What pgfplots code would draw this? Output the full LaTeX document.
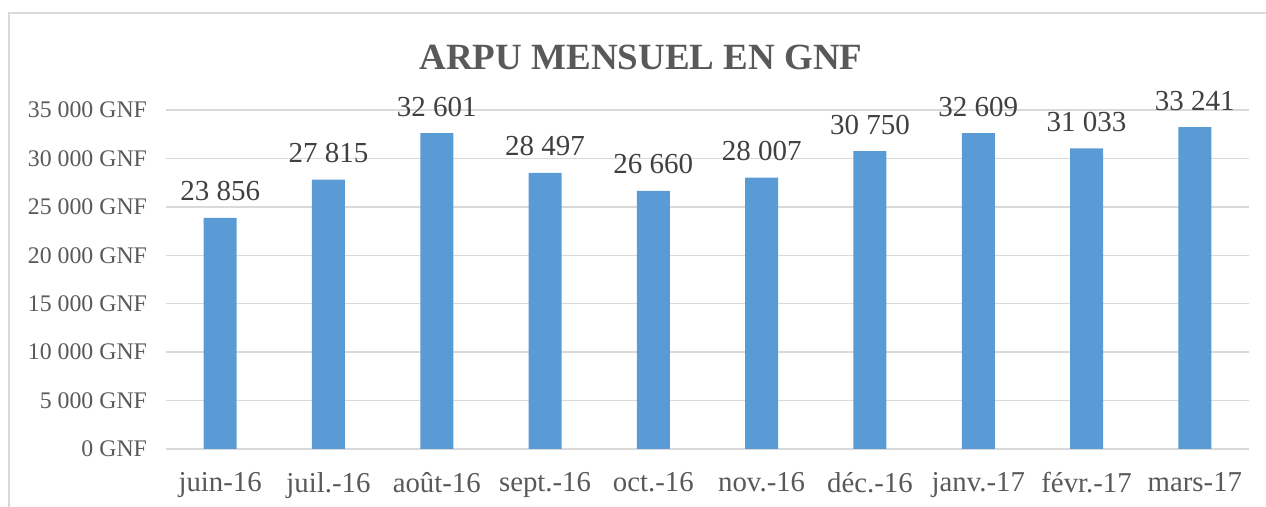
\documentclass[border=0pt]{standalone}
\usepackage{fontspec}
\setmainfont{Liberation Serif}
\usepackage{pgfplots}
\pgfplotsset{compat=1.18}
\definecolor{barblue}{HTML}{5B9BD5}
\definecolor{gridgray}{HTML}{D9D9D9}
\definecolor{txtgray}{HTML}{595959}
\definecolor{lblgray}{HTML}{404040}
\begin{document}
\begin{tikzpicture}
\useasboundingbox (0,0) rectangle (633pt,253.5pt);
\draw[gridgray, line width=0.9pt] (4.5pt,-20pt) -- (4.5pt,247pt) -- (700pt,247pt);
\begin{axis}[
  at={(83pt,29pt)}, anchor=south west,
  scale only axis, width=541.5pt, height=169.5pt,
  xmin=-0.5, xmax=9.5, ymin=0, ymax=35000,
  ybar, bar width=16.5pt,
  xtick=data,
  xticklabels={juin-16,juil.-16,août-16,sept.-16,oct.-16,nov.-16,déc.-16,janv.-17,févr.-17,mars-17},
  ytick={0,5000,10000,15000,20000,25000,30000,35000},
  scaled y ticks=false,
  yticklabel={\pgfmathprintnumber{\tick}\ GNF},
  /pgf/number format/.cd, fixed, precision=0, 1000 sep={\ }, assume math mode=true,
  /pgfplots/.cd,
  major tick length=0pt,
  axis line style={draw=none},
  ymajorgrids, grid style={gridgray, line width=0.75pt},
  yticklabel style={font=\fontsize{11.9pt}{13pt}\selectfont, text=txtgray, xshift=-6pt},
  xticklabel style={font=\fontsize{14.4pt}{16pt}\selectfont, text=txtgray, yshift=-8pt},
  nodes near coords,
  every node near coord/.append style={font=\fontsize{14.5pt}{16pt}\selectfont, text=lblgray, anchor=base, yshift=8.5pt},
  clip=false,
]
\addplot[fill=barblue, draw=none] coordinates {
(0,23856) (1,27815) (2,32601) (3,28497) (4,26660)
(5,28007) (6,30750) (7,32609) (8,31033) (9,33241)};
\end{axis}
\node[anchor=base, text=txtgray, font=\fontsize{18.5pt}{20pt}\selectfont\bfseries] at (320.5pt,218.5pt) {ARPU MENSUEL EN GNF};
\end{tikzpicture}
\end{document}
